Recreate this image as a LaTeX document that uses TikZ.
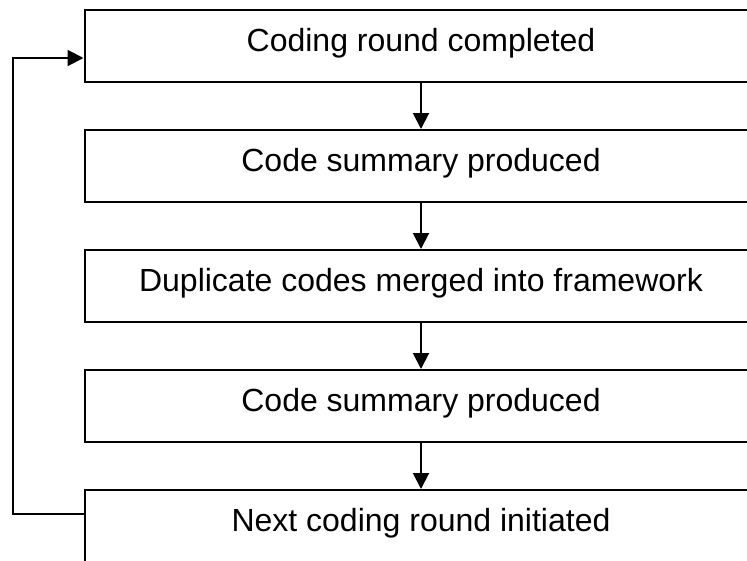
\documentclass[tikz,border=0pt]{standalone}
\usepackage{fontspec}
\setmainfont{Liberation Sans}
\usetikzlibrary{arrows.meta}
\begin{document}
\begin{tikzpicture}[x=1pt,y=-1pt,
  stage/.style={draw=black, line width=2pt, rectangle, minimum width=673pt,
    minimum height=72pt, inner sep=0pt, font=\fontsize{32}{36}\selectfont,
    text height=20pt, text depth=8.6pt},
  flow/.style={draw=black, line width=2pt,
    -{Triangle[length=16pt 0 0,width=16pt 0 0]}}]
\useasboundingbox (0,0) rectangle (747,560);
\clip (0,0) rectangle (747,560);
\node[stage] (b1) at (421,46)  {Coding round completed};
\node[stage] (b2) at (421,166) {Code summary produced};
\node[stage] (b3) at (421,286) {Duplicate codes merged into framework};
\node[stage] (b4) at (421,406) {Code summary produced};
\node[stage] (b5) at (421,526) {Next coding round initiated};
\draw[flow] (b1) -- (b2);
\draw[flow] (b2) -- (b3);
\draw[flow] (b3) -- (b4);
\draw[flow] (b4) -- (b5);
% feedback loop from the last stage back to the first
\coordinate (loopout) at ([yshift=12pt]b5.west);
\coordinate (loopin) at ([yshift=-12pt]b1.west);
\coordinate (loopx) at (12.7,0);
\draw[flow] (loopout) -| (loopx |- loopin) -- (loopin);
\end{tikzpicture}
\end{document}
